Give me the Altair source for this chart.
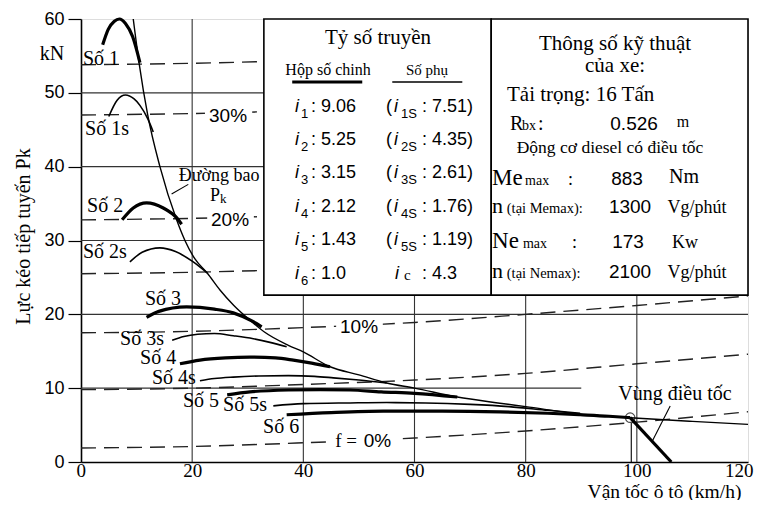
import altair as alt
import pandas as pd

# ---------------- data ----------------
# tractive-force envelope (Duong bao Pk)
env_v = [9.4, 10.5, 12.0, 14.2, 17.2, 18.7, 20.5, 22.7, 25.0, 27.5, 30.4, 33.0, 37.3, 40.0,
         44.8, 50.0, 55.0, 60.0, 67.7, 75.0, 80.0, 89.8, 98.8, 110.0, 120.0]
env_p = [60.0, 53.8, 47.0, 40.0, 32.8, 30.0, 27.5, 25.6, 23.3, 21.2, 19.2, 17.6, 15.8, 14.9,
         12.9, 11.8, 10.7, 10.0, 8.8, 8.0, 7.5, 6.5, 6.0, 5.5, 5.1]

g1_v = [3.9, 4.9, 6.0, 6.9, 8.0, 9.3, 10.6]
g1_p = [56.5, 58.6, 59.7, 60.0, 59.4, 57.6, 54.1]
g1s_v = [5.0, 6.5, 8.0, 9.5, 10.6, 12.0, 13.0]
g1s_p = [46.8, 49.0, 49.7, 49.2, 48.3, 46.5, 44.7]
g2_v = [7.4, 9.4, 11.8, 14.8, 17.3, 18.1]
g2_p = [32.8, 34.4, 35.1, 34.4, 33.0, 32.2]
g2s_v = [8.8, 11.0, 14.2, 17.0, 20.0, 22.7]
g2s_p = [27.1, 28.4, 29.0, 28.5, 27.2, 25.6]
g3_v = [11.8, 14.0, 19.0, 24.0, 27.4, 31.0, 32.5]
g3_p = [19.6, 20.4, 21.0, 20.7, 20.2, 19.0, 18.3]
g3s_v = [16.4, 18.5, 21.0, 24.0, 27.4, 31.0, 34.0, 37.0]
g3s_p = [16.5, 17.0, 17.3, 17.4, 17.1, 16.7, 16.2, 15.6]
g4_v = [17.8, 21.4, 26.0, 30.4, 35.0, 38.2, 41.5, 44.8]
g4_p = [13.3, 13.8, 14.1, 14.2, 14.1, 13.8, 13.4, 12.9]
g4s_v = [21.4, 24.0, 27.4, 32.0, 37.3, 42.0, 45.4, 50.0, 55.0]
g4s_p = [11.0, 11.3, 11.5, 11.65, 11.7, 11.6, 11.4, 11.1, 10.7]
g5_v = [26.3, 30.4, 37.3, 43.0, 48.4, 54.0, 60.0, 67.7]
g5_p = [9.1, 9.5, 9.75, 9.8, 9.75, 9.5, 9.3, 8.8]
g5s_v = [34.6, 40.0, 48.4, 55.0, 62.0, 70.0, 77.0, 84.0, 89.8]
g5s_p = [7.6, 7.9, 8.0, 8.05, 8.0, 7.8, 7.5, 7.0, 6.6]
g6_v = [37.0, 45.0, 54.4, 65.0, 75.4, 84.0, 89.8, 95.0, 98.8]
g6_p = [6.4, 6.7, 6.9, 6.9, 6.8, 6.6, 6.4, 6.2, 6.0]
gov_v = [98.8, 106.2]
gov_p = [6.0, 0.0]

# road-resistance lines (dashed)
road_v = [0, 20, 40, 60, 80, 100, 120]
road_0 = [1.9, 2.1, 2.6, 3.25, 4.2, 5.4, 6.8]
road_5 = [9.8, 10.0, 10.5, 11.1, 12.0, 13.3, 14.6]
road_10 = [17.5, 17.7, 18.2, 18.9, 20.0, 21.2, 22.5]
road_hi_v = [0, 20, 40]
road_15 = [25.5, 25.7, 26.1]
road_20 = [32.8, 33.0, 33.4]
road_30 = [47.0, 47.2, 47.6]
road_35 = [53.8, 54.0, 54.4]

# grid
hgrid_p = [10, 20, 30, 40, 50]
hgrid_end = [90, 120, 120, 120, 120]
vgrid_v = [20, 40, 60, 80, 100]

# boxes of the two tables
tab_x1 = [32.9, 73.8]
tab_x2 = [73.8, 120.0]
tab_y1 = 22.6
tab_y2 = 60.0

ratio_main = ["9.06", "5.25", "3.15", "2.12", "1.43", "1.0"]
ratio_aux = ["7.51", "4.35", "2.61", "1.76", "1.19"]
ratio_c = "4.3"
row_p = [47.41, 42.94, 38.47, 33.86, 29.39, 24.79]

# ---------------- helpers ----------------
xs = alt.Scale(domain=[0, 120], nice=False, zero=False)
ys = alt.Scale(domain=[0, 60], nice=False, zero=False)
SERIF = "Liberation Serif"
SANS = "Liberation Sans"

xaxis = alt.Axis(values=[0, 20, 40, 60, 80, 100, 120], title="Vận tốc ô tô (km/h)",
                 grid=False, ticks=False, tickSize=0, labelFont=SERIF, labelFontSize=19,
                 labelColor="black", labelPadding=14, labelBaseline="alphabetic",
                 labelFlush=True, labelFlushOffset=5, domainColor="black", domainWidth=1.6,
                 titleFont=SERIF, titleFontSize=19.5, titleFontWeight="normal",
                 titleColor="black", titleX=583, titleY=35, titleBaseline="alphabetic",
                 titleAlign="center")
yaxis = alt.Axis(values=[0, 10, 20, 30, 40, 50, 60], title="Lực kéo tiếp tuyến Pk",
                 grid=False, ticks=True, tickSize=13, tickColor="black", tickWidth=1.2,
                 labelFont=SANS, labelFontSize=18, labelColor="black", labelPadding=4,
                 labelFlush=False, domainColor="black", domainWidth=1.6,
                 titleFont=SERIF, titleFontSize=20, titleFontWeight="normal",
                 titleColor="black", titleX=-58, titleY=217, titleAngle=270,
                 titleBaseline="middle", titleAlign="center")


def X(f="v:Q"):
    return alt.X(f, scale=xs, axis=xaxis)


def Y(f="p:Q"):
    return alt.Y(f, scale=ys, axis=yaxis)


def texts(items, font, size, align="left", baseline="alphabetic", style="normal", dy=0):
    df = pd.DataFrame(items, columns=["t", "v", "p"])
    return alt.Chart(df).mark_text(font=font, fontSize=size, align=align, baseline=baseline,
                                   fontStyle=style, dy=dy, color="black").encode(
        x=X(), y=Y(), text="t:N")


def series_df(named):
    rows = []
    for name, vv, pp, w in named:
        for i, (a, b) in enumerate(zip(vv, pp)):
            rows.append({"s": name, "i": i, "v": a, "p": b, "w": w})
    return pd.DataFrame(rows)


# ---------------- layers ----------------
hgrid = pd.DataFrame({"p": hgrid_p, "v": [0] * 5, "v2": hgrid_end})
grid_h = alt.Chart(hgrid).mark_rule(color="#333", strokeWidth=1.1).encode(
    x=X(), x2="v2:Q", y=Y())
vgrid = pd.DataFrame({"v": vgrid_v, "p": [0] * 5, "p2": [60] * 5})
grid_v = alt.Chart(vgrid).mark_rule(color="#333", strokeWidth=1.1).encode(
    x=X(), y=Y(), y2="p2:Q")

roads = series_df([
    ("0", road_v, road_0, 1), ("5", road_v, road_5, 1), ("10", road_v, road_10, 1),
    ("15", road_hi_v, road_15, 1), ("20", road_hi_v, road_20, 1),
    ("30", road_hi_v, road_30, 1), ("35", road_hi_v, road_35, 1)])
dashed = alt.Chart(roads).mark_line(color="#222", strokeWidth=1.4, strokeDash=[15, 8],
                                    interpolate="monotone").encode(
    x=X(), y=Y(), detail="s:N", order="i:Q")

# white gaps behind percentage labels
gap_df = pd.DataFrame({"v": [22.3, 22.7, 45.9, 44.8], "v2": [30.8, 31.1, 54.3, 56.9],
                       "p": [45.8, 31.7, 17.2, 1.8], "p2": [47.9, 33.9, 19.4, 3.9]})
gaps = alt.Chart(gap_df).mark_rect(color="white").encode(x=X(), x2="v2:Q", y=Y(), y2="p2:Q")

curves = series_df([
    ("1", g1_v, g1_p, 3.2), ("1s", g1s_v, g1s_p, 1.6), ("2", g2_v, g2_p, 3.2),
    ("2s", g2s_v, g2s_p, 1.6), ("3", g3_v, g3_p, 3.2), ("3s", g3s_v, g3s_p, 1.6),
    ("4", g4_v, g4_p, 3.2), ("4s", g4s_v, g4s_p, 1.6), ("5", g5_v, g5_p, 3.2),
    ("5s", g5s_v, g5s_p, 1.6), ("6", g6_v, g6_p, 3.2), ("gov", gov_v, gov_p, 3.2),
    ("env", env_v, env_p, 1.4)])
lines = alt.Chart(curves).mark_line(color="black", interpolate="monotone",
                                    strokeCap="butt").encode(
    x=X(), y=Y(), detail="s:N", order="i:Q",
    strokeWidth=alt.StrokeWidth("w:Q", scale=None, legend=None))

gov_rule = alt.Chart(pd.DataFrame({"v": [99.0], "p": [0.0], "p2": [5.3]})).mark_rule(
    color="black", strokeWidth=1.1).encode(x=X(), y=Y(), y2="p2:Q")
gov_circle = alt.Chart(pd.DataFrame({"v": [98.8], "p": [6.0]})).mark_point(
    shape="circle", size=90, filled=False, color="black", strokeWidth=1.2).encode(x=X(), y=Y())

leaders = pd.DataFrame({"v": [16.3, 106.0], "p": [36.3, 7.6], "v2": [19.3, 102.7],
                        "p2": [37.6, 2.7]})
leader = alt.Chart(leaders).mark_rule(color="black", strokeWidth=1.1).encode(
    x=X(), y=Y(), x2="v2:Q", y2="p2:Q")

tabs = pd.DataFrame({"v": tab_x1, "v2": tab_x2, "p": [tab_y1] * 2, "p2": [tab_y2] * 2})
tables = alt.Chart(tabs).mark_rect(fill="white", stroke="black", strokeWidth=1.6).encode(
    x=X(), x2="v2:Q", y=Y(), y2="p2:Q")

ul = pd.DataFrame({"v": [38.0, 56.0], "v2": [50.6, 68.6], "p": [51.47, 51.47], "w": [3.2, 1.5]})
underl = alt.Chart(ul).mark_rule(color="black").encode(
    x=X(), x2="v2:Q", y=Y(), strokeWidth=alt.StrokeWidth("w:Q", scale=None, legend=None))

# ---- table 1 text ----
t1 = []
t1.append(texts([("Tỷ số truyền", 53.44, 56.62)], SERIF, 21, align="center"))
t1.append(texts([("Hộp số chinh", 44.44, 52.42)], SERIF, 16, align="center"))
t1.append(texts([("Số phụ", 62.25, 52.42)], SERIF, 15, align="center"))
t1.append(texts([("i", 38.5, p) for p in row_p] + [("i", 56.32, p) for p in row_p[:5]]
                + [("i", 56.5, row_p[5])], SANS, 18, style="italic"))
t1.append(texts([(str(k + 1), 39.58, p) for k, p in enumerate(row_p)]
                + [(f"{k + 1}S", 57.57, p) for k, p in enumerate(row_p[:5])],
                SANS, 13, dy=6))
t1.append(texts([("c", 58.1, row_p[5])], SERIF, 15, dy=1))
t1.append(texts([(": " + r, 41.38, p) for r, p in zip(ratio_main, row_p)]
                + [(": " + r + ")", 61.35, p) for r, p in zip(ratio_aux, row_p[:5])]
                + [(": " + ratio_c, 61.35, row_p[5])]
                + [("(", 54.88, p) for p in row_p[:5]], SANS, 18))

# ---- table 2 text ----
t2 = []
t2.append(texts([("Thông số kỹ thuật", 96.08, 55.8), ("của xe:", 96.08, 52.82)],
                SERIF, 21, align="center"))
t2.append(texts([("Tải trọng: 16 Tấn", 76.65, 48.85)], SERIF, 21))
t2.append(texts([("R", 77.19, 44.97), (":", 82.22, 44.97)], SERIF, 20))
t2.append(texts([("bx", 79.35, 44.97)], SERIF, 14))
t2.append(texts([("Động cơ diesel có điều tốc", 95.18, 41.85)], SERIF, 17.5, align="center"))
t2.append(texts([("0.526", 99.5, 44.97), ("883", 98.24, 37.52), ("1300", 98.78, 33.73),
                 ("173", 98.42, 28.99), ("2100", 98.78, 24.92)], SANS, 19, align="center"))
t2.append(texts([("m", 108.31, 45.37)], SERIF, 16, align="center"))
t2.append(texts([("Me", 73.95, 37.52), ("Ne", 73.95, 28.99)], SERIF, 23))
t2.append(texts([("n", 73.95, 33.73), ("n", 73.95, 24.92)], SERIF, 22))
t2.append(texts([("max", 79.9, 37.52), ("max", 79.5, 28.99)], SERIF, 14))
t2.append(texts([(":", 87.62, 37.52), (":", 88.34, 28.99)], SERIF, 18))
t2.append(texts([("(tại Memax):", 76.6, 33.73), ("(tại Nemax):", 76.6, 24.92)], SERIF, 14.5))
t2.append(texts([("Nm", 108.49, 37.79)], SERIF, 20, align="center"))
t2.append(texts([("Kw", 108.67, 28.99)], SERIF, 18, align="center"))
t2.append(texts([("Vg/phút", 110.83, 33.73), ("Vg/phút", 110.83, 24.92)], SERIF, 18,
                align="center"))

# ---- chart annotations ----
gear_lbl = texts([("Số 1", 0.36, 53.77), ("Số 1s", 0.72, 44.29), ("Số 2", 1.08, 33.86),
                  ("Số 2s", 0.36, 27.63), ("Số 3", 11.51, 21.27), ("Số 3s", 7.02, 15.85),
                  ("Số 4", 10.62, 13.3), ("Số 4s", 12.77, 10.6), ("Số 5", 18.35, 7.5),
                  ("Số 5s", 25.55, 6.9), ("Số 6", 32.75, 3.93)], SERIF, 20)
pct_lbl = texts([("30%", 26.45, 46.86), ("20%", 26.81, 32.78), ("10%", 50.02, 18.29),
                 ("0%", 53.35, 2.84)], SANS, 19, align="center", baseline="middle")
f_lbl = texts([("f =", 47.68, 2.84)], SERIF, 19, align="center", baseline="middle")
env_lbl = texts([("Đường bao", 24.83, 38.1)], SERIF, 18, align="center")
pk_lbl = texts([("P", 23.21, 35.3)], SERIF, 18)
pk_sub = texts([("k", 25.0, 35.05)], SERIF, 13)
vung = texts([("Vùng điều tốc", 106.87, 8.4)], SERIF, 20, align="center")
kn = texts([("kN", -5.22, 54.45)], SERIF, 20, align="center")

chart = alt.layer(
    grid_h, grid_v, dashed, gaps, lines, gov_rule, gov_circle, leader,
    tables, underl, *t1, *t2,
    gear_lbl, pct_lbl, f_lbl, env_lbl, pk_lbl, pk_sub, vung, kn
).properties(
    width=667, height=443,
    autosize=alt.AutoSizeParams(type="none"),
    padding={"left": 73, "top": 11, "right": 6, "bottom": 38},
).configure_view(stroke="black", strokeWidth=1.6).configure(background="white")

chart.save("out.html", embed_options={"renderer": "svg", "actions": False})
